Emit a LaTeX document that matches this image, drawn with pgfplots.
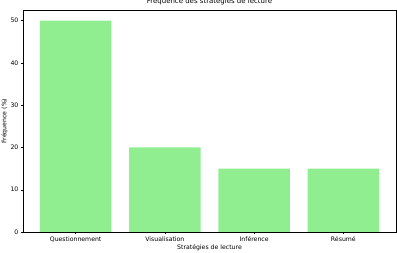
\documentclass[border=0pt]{standalone}
\usepackage{fontspec}
\setmainfont{DejaVu Sans}
\usepackage{pgfplots}
\pgfplotsset{compat=1.18}
\definecolor{lightgreen}{HTML}{90EE90}
\begin{document}
\begin{tikzpicture}
\useasboundingbox (-23bp,-21bp) rectangle (374bp,232bp);
\begin{axis}[
  at={(0,0)}, anchor=south west,
  scale only axis, width=373bp, height=222bp,
  xmin=-0.59, xmax=3.59, ymin=0, ymax=52.5,
  xtick={0,1,2,3},
  xticklabels={Questionnement,Visualisation,Inférence,Résumé},
  ytick={0,10,20,30,40,50},
  tick align=outside, tick pos=left,
  major tick length=1.6bp,
  tick style={black, line width=0.35pt},
  axis line style={line width=0.4pt},
  /pgf/number format/assume math mode=true,
  tick label style={font=\fontsize{6.2}{7}\selectfont},
  label style={font=\fontsize{6.2}{7}\selectfont},
  xlabel={Stratégies de lecture},
  ylabel={Fréquence (\%)},
  xlabel style={yshift=4.5bp},
  ylabel style={yshift=-4bp},
  xticklabel style={yshift=0.5bp},
  yticklabel style={xshift=0.5bp},
  title={Fréquence des stratégies de lecture},
  title style={font=\fontsize{7}{8}\selectfont, at={(0.5,1)}, anchor=base, yshift=0.5bp},
]
\addplot[ybar, bar width=0.8, fill=lightgreen, draw=none, bar shift=0pt]
  coordinates {(0,50) (1,20) (2,15) (3,15)};
\end{axis}
\end{tikzpicture}
\end{document}
